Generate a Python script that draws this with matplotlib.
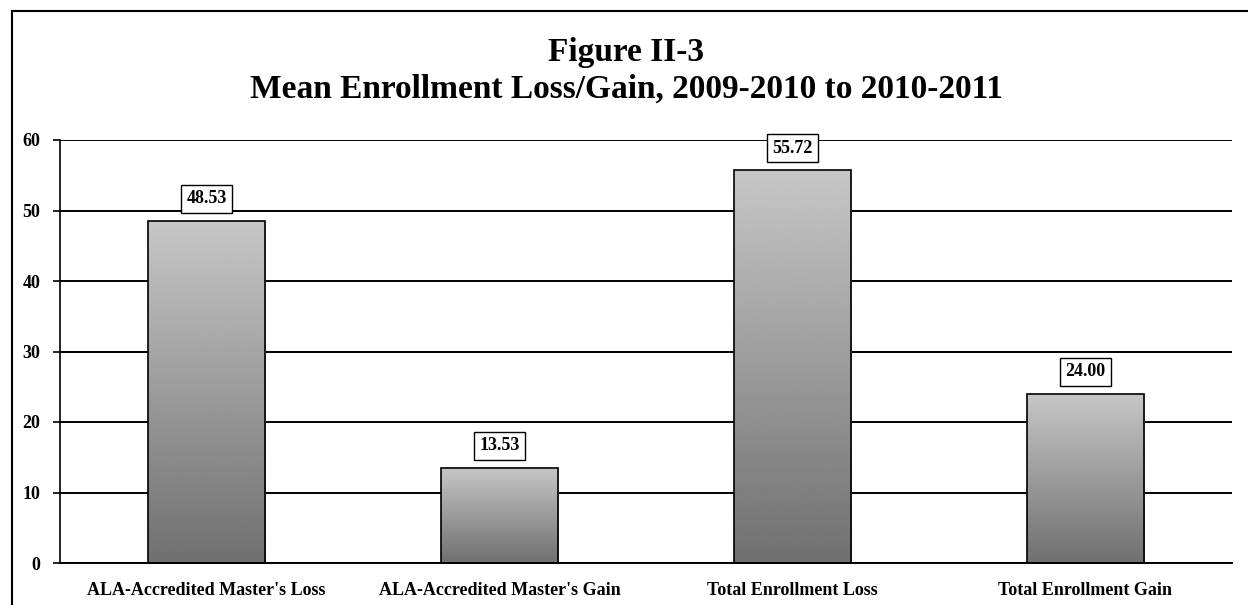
import numpy as np
import matplotlib.pyplot as plt
from matplotlib.lines import Line2D

# data
categories = ["ALA-Accredited Master's Loss", "ALA-Accredited Master's Gain",
              "Total Enrollment Loss", "Total Enrollment Gain"]
values = [48.53, 13.53, 55.72, 24.00]
yticks = [0, 10, 20, 30, 40, 50, 60]

plt.rcParams['font.family'] = ['Liberation Serif', 'DejaVu Serif']
plt.rcParams['font.weight'] = 'bold'

fig = plt.figure(figsize=(12.48, 6.05), dpi=100)
ax = fig.add_axes([60 / 1248, 1 - 563 / 605, 1172 / 1248, 423 / 605])

x = np.arange(len(categories))
bars = ax.bar(x, values, width=0.4, facecolor='none', edgecolor='black',
              linewidth=1.2, zorder=3)

# vertical gradient inside each bar, light at the top
grad = np.linspace(0, 1, 256).reshape(-1, 1)
for b in bars:
    x0, w, h = b.get_x(), b.get_width(), b.get_height()
    im = ax.imshow(grad, extent=[x0, x0 + w, 0, h], origin='lower',
                   cmap='gray', vmin=-1.29, vmax=1.65, aspect='auto', zorder=2,
                   interpolation='bilinear')
    im.set_clip_path(b)
    ax.text(x0 + w / 2, h + 1.9, f"{h:.2f}", ha='center', va='bottom',
            fontsize=13, fontweight='bold', zorder=5,
            bbox=dict(boxstyle='square,pad=0.3', fc='white', ec='black', lw=1))

ax.set_xlim(-0.5, len(categories) - 0.5)
ax.set_ylim(0, 60)
ax.set_yticks(yticks)
ax.set_yticklabels([str(t) for t in yticks], fontsize=13, fontweight='bold')
ax.set_xticks(x)
ax.set_xticklabels(categories, fontsize=13, fontweight='bold')
ax.tick_params(axis='x', length=0, pad=14)
ax.tick_params(axis='y', length=5, width=1.2, pad=9)
ax.yaxis.grid(True, color='black', linewidth=1.4, zorder=1)
ax.set_axisbelow(True)
for s in ['top', 'right']:
    ax.spines[s].set_visible(False)
ax.spines['left'].set_linewidth(1.2)
ax.spines['bottom'].set_linewidth(1.4)

fig.text(626 / 1248, 1 - 61 / 605, "Figure II-3", ha='center', va='baseline',
         fontsize=24, fontweight='bold')
fig.text(626 / 1248, 1 - 98 / 605, "Mean Enrollment Loss/Gain, 2009-2010 to 2010-2011",
         ha='center', va='baseline', fontsize=24, fontweight='bold')

# outer frame (only left and top fall inside the picture)
fig.add_artist(Line2D([12 / 1248, 12 / 1248], [0, 1 - 11 / 605], color='black', lw=1.5))
fig.add_artist(Line2D([12 / 1248, 1], [1 - 11 / 605, 1 - 11 / 605], color='black', lw=1.5))

fig.savefig('out.png', dpi=100)
